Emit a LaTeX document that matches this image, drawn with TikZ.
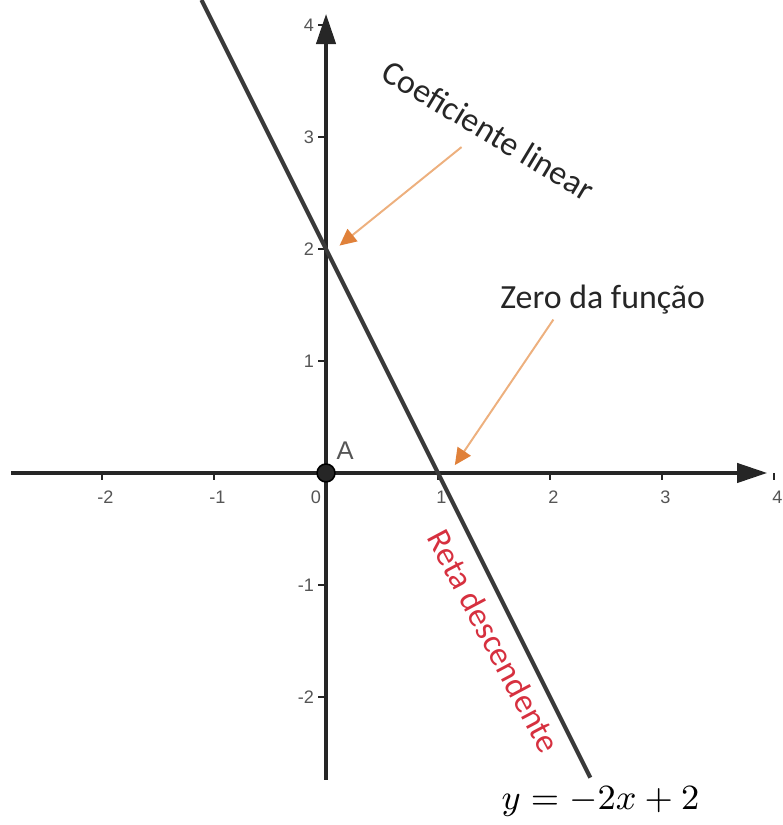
\documentclass[tikz,border=0pt]{standalone}
\usepackage{fontspec}
\setmainfont{Carlito}
\setsansfont{Liberation Sans}
\usepackage{xcolor}
\usepackage{tikz}
\usetikzlibrary{arrows.meta,positioning}
\definecolor{axis}{HTML}{262626}
\definecolor{graph}{HTML}{3A3A3A}
\definecolor{tick}{HTML}{555555}
\definecolor{orline}{HTML}{EDB07E}
\definecolor{ortip}{HTML}{E0813A}
\definecolor{redlab}{HTML}{D6303F}
\tikzset{
  ax/.style={draw=axis,line width=1.05pt,-{Triangle[length=2.7mm,width=1.7mm]}},
  fn/.style={draw=graph,line width=1.05pt},
  tk/.style={draw=axis,line width=0.5pt},
  num/.style={font=\sffamily\fontsize{4.6}{5}\selectfont,color=tick,inner sep=0pt},
  note/.style={font=\fontsize{8.6}{10}\selectfont,color=black!85,inner sep=0pt},
  pt/.style={circle,fill=axis,draw=black,inner sep=0pt,minimum size=1.6mm},
  poi/.style={->,>={Triangle[length=1.5mm,width=1.4mm,color=ortip]},draw=orline,line width=0.5pt},
}
\begin{document}
\begin{tikzpicture}[x=1cm,y=1cm]
\useasboundingbox (-2.911,-3.143) rectangle (4.08,4.223);

% axes
\coordinate (xl) at (-2.81,0);
\coordinate (xr) at (3.94,0);
\coordinate (yb) at (0,-2.74);
\coordinate (yt) at (0,4.1);
\draw[ax] (xl) -- (xr);
\draw[ax] (yb) -- (yt);

% ticks and numbers
\foreach \x/\t in {-2/-2,-1/-1,1/1,2/2,3/3,4/4} {
  \draw[tk] (\x,0) -- (\x,-0.06);
  \node[num] (nx\x) at (\x+0.03,-0.22) {\t};
}
\node[num] (n0) at (-0.09,-0.22) {0};
\foreach \y/\t in {-2/-2,-1/-1,1/1,2/2,3/3,4/4} {
  \draw[tk] (0,\y) -- (-0.07,\y);
  \node[num,anchor=east] (ny\y) at (-0.1,\y) {\t};
}

% graph of y = -2x + 2
\coordinate (ftop) at (-1.112,4.224);
\coordinate (fbot) at (2.36,-2.72);
\draw[fn] (ftop) -- (fbot);

% point A
\node[pt] (A) at (0,0) {};
\node[num,font=\sffamily\fontsize{6.5}{7}\selectfont] (Alab) at (0.17,0.2) {A};

% labels
\node[note,rotate=-31] (coef) at (1.45,3.06) {Coeficiente linear};
\node[note] (zero) at (2.47,1.55) {Zero da função};
\node[note,color=redlab,rotate=-62] (reta) at (1.5,-1.5) {Reta descendente};
\node[inner sep=0pt,font=\fontsize{8.6}{10}\selectfont] (eq) at (2.45,-2.93) {$y=-2x+2$};

% pointers
\coordinate (c0) at (1.21,2.91);
\coordinate (c1) at (0.12,2.03);
\coordinate (z0) at (2.03,1.37);
\coordinate (z1) at (1.15,0.07);
\draw[poi] (c0) -- (c1);
\draw[poi] (z0) -- (z1);
\end{tikzpicture}
\end{document}
